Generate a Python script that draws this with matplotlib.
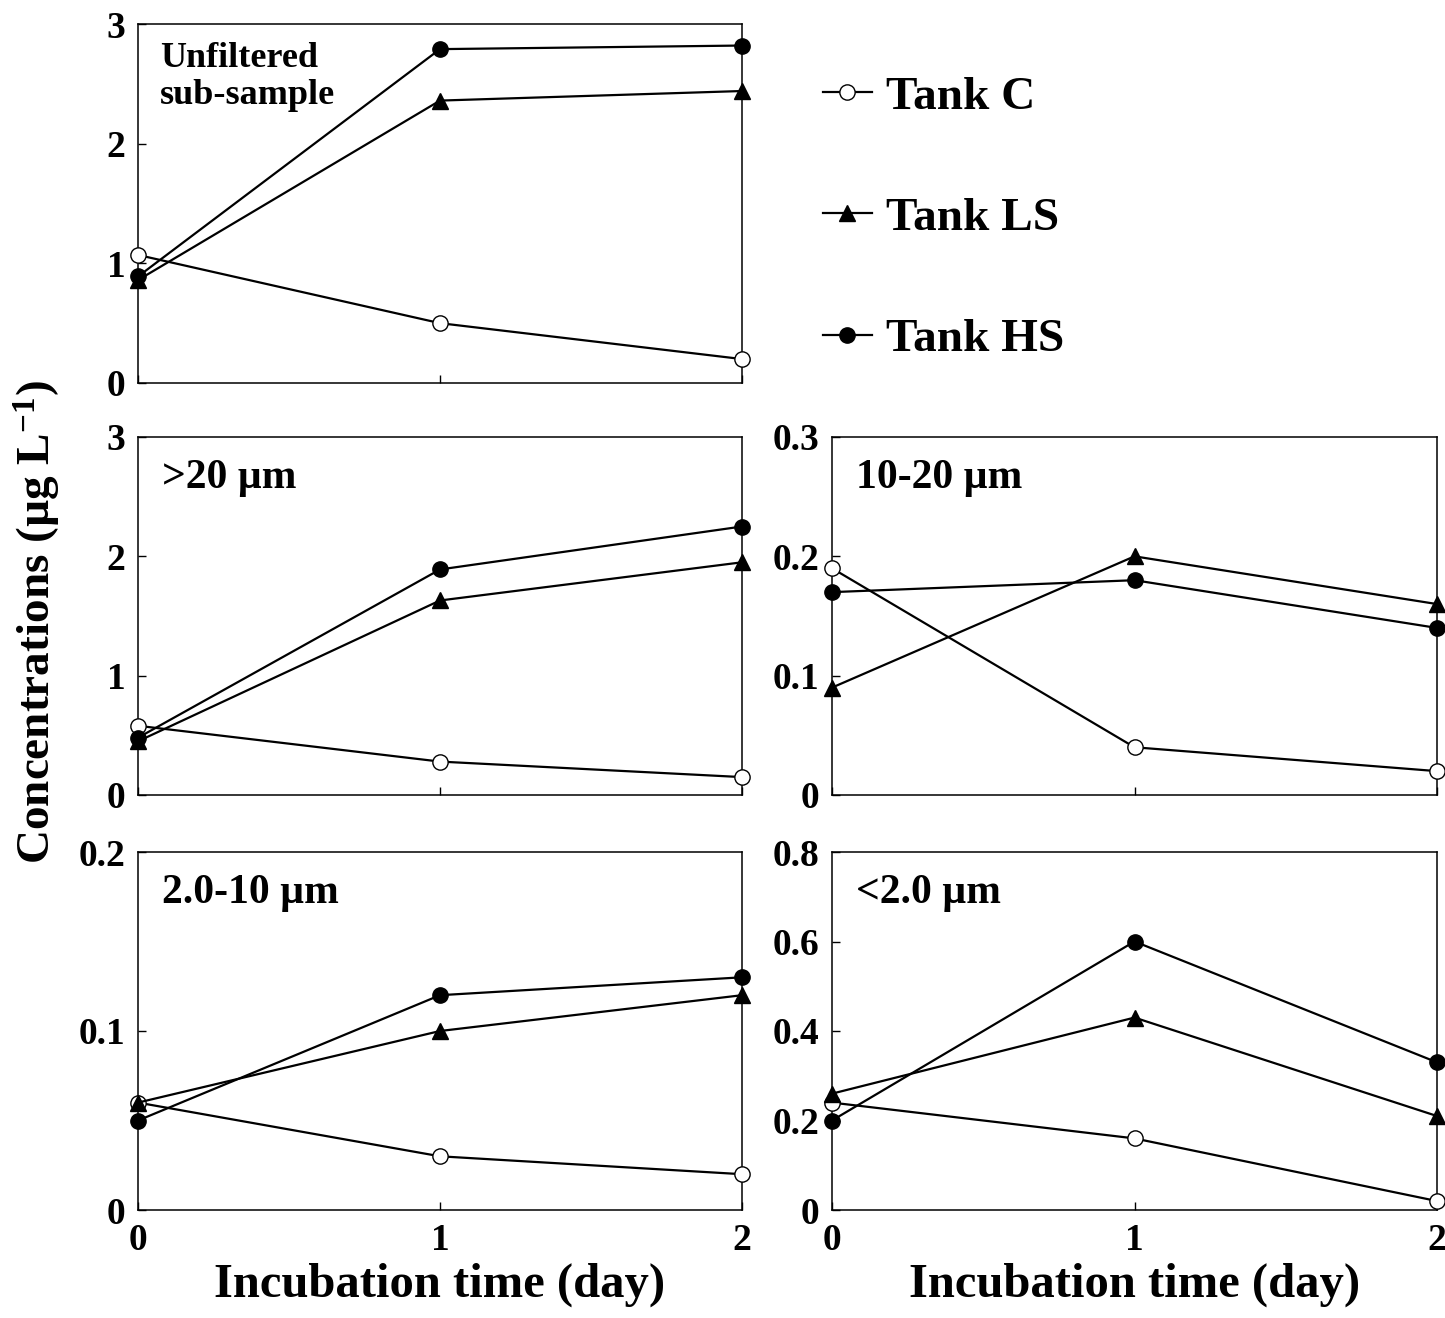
import matplotlib
matplotlib.use("Agg")
import matplotlib.pyplot as plt

plt.rcParams['font.family'] = ['Liberation Serif', 'DejaVu Serif']
plt.rcParams['font.weight'] = 'bold'
plt.rcParams['mathtext.fontset'] = 'custom'
plt.rcParams['mathtext.rm'] = 'Liberation Serif:bold'
plt.rcParams['mathtext.default'] = 'rm'

days = [0, 1, 2]
series = ["Tank C", "Tank LS", "Tank HS"]

unfiltered_C = [1.07, 0.50, 0.20]
unfiltered_LS = [0.86, 2.36, 2.44]
unfiltered_HS = [0.89, 2.79, 2.82]

gt20_C = [0.58, 0.28, 0.15]
gt20_LS = [0.45, 1.63, 1.95]
gt20_HS = [0.48, 1.89, 2.25]

s10_20_C = [0.19, 0.04, 0.02]
s10_20_LS = [0.09, 0.20, 0.16]
s10_20_HS = [0.17, 0.18, 0.14]

s2_10_C = [0.06, 0.03, 0.02]
s2_10_LS = [0.06, 0.10, 0.12]
s2_10_HS = [0.05, 0.12, 0.13]

lt2_C = [0.24, 0.16, 0.02]
lt2_LS = [0.26, 0.43, 0.21]
lt2_HS = [0.20, 0.60, 0.33]

panels = [
    ("Unfiltered\nsub-sample", [unfiltered_C, unfiltered_LS, unfiltered_HS], [0, 1, 2, 3], ["0", "1", "2", "3"]),
    (">20 µm", [gt20_C, gt20_LS, gt20_HS], [0, 1, 2, 3], ["0", "1", "2", "3"]),
    ("10-20 µm", [s10_20_C, s10_20_LS, s10_20_HS], [0, 0.1, 0.2, 0.3], ["0", "0.1", "0.2", "0.3"]),
    ("2.0-10 µm", [s2_10_C, s2_10_LS, s2_10_HS], [0, 0.1, 0.2], ["0", "0.1", "0.2"]),
    ("<2.0 µm", [lt2_C, lt2_LS, lt2_HS], [0, 0.2, 0.4, 0.6, 0.8], ["0", "0.2", "0.4", "0.6", "0.8"]),
]

W, H = 1445, 1318
fig = plt.figure(figsize=(W / 100, H / 100), dpi=100)

def box(x0, y0, x1, y1):
    return [x0 / W, 1 - y1 / H, (x1 - x0) / W, (y1 - y0) / H]

positions = [
    box(138, 24, 742, 383),
    box(138, 437, 742, 795),
    box(832, 437, 1437, 795),
    box(138, 852, 742, 1210),
    box(832, 852, 1437, 1210),
]

styles = [
    dict(marker='o', markerfacecolor='white'),
    dict(marker='^', markerfacecolor='black'),
    dict(marker='o', markerfacecolor='black'),
]

handles = []
for i, (label, data, yticks, ylabels) in enumerate(panels):
    ax = fig.add_axes(positions[i])
    for j, vals in enumerate(data):
        ln, = ax.plot(days, vals, color='black', lw=1.6, markersize=11,
                      markeredgecolor='black', markeredgewidth=1.0,
                      clip_on=False, zorder=3, **styles[j])
        if i == 0:
            handles.append(ln)
    ax.set_xlim(0, 2)
    ax.set_ylim(yticks[0], yticks[-1])
    ax.set_yticks(yticks)
    ax.set_yticklabels(ylabels)
    ax.set_xticks(days)
    ax.tick_params(direction='in', length=6, width=1, labelsize=27, pad=9)
    for sp in ax.spines.values():
        sp.set_linewidth(1.1)
    if i >= 3:
        ax.set_xticklabels(["0", "1", "2"])
        ax.set_xlabel("Incubation time (day)", fontsize=35, fontweight='bold', labelpad=4)
    else:
        ax.set_xticklabels([])
    if i == 0:
        ax.text(0.036, 0.95, label, transform=ax.transAxes, fontsize=26,
                fontweight='bold', va='top', ha='left', linespacing=1.15)
    else:
        ax.text(0.04, 0.885, label, transform=ax.transAxes, fontsize=30,
                fontweight='bold', va='center', ha='left')

fig.text(0.026, 0.528, r"Concentrations (µg L$^{-1}$)", rotation=90,
         fontsize=34, fontweight='bold', ha='center', va='center')

fig.legend(handles, series, loc='upper left', bbox_to_anchor=(780 / W, 1 - 33 / H),
           frameon=False, handlelength=1.05, handletextpad=0.3,
           labelspacing=1.66, prop={'weight': 'bold', 'size': 34})

fig.savefig("out.png", dpi=100)
